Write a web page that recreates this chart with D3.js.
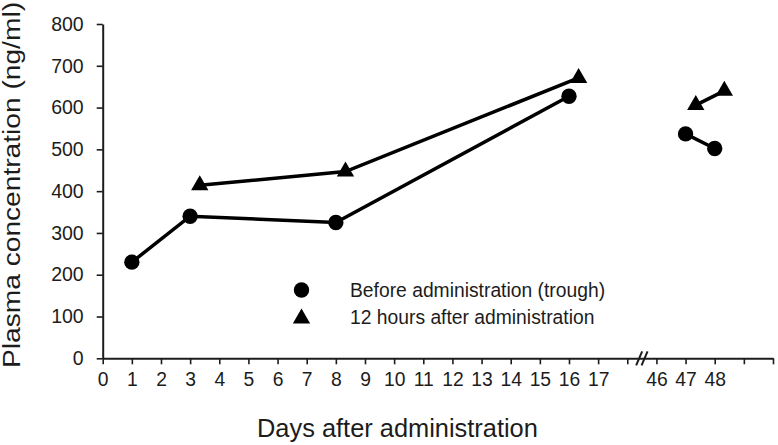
<!DOCTYPE html>
<html>
<head>
<meta charset="utf-8">
<script src="https://cdn.jsdelivr.net/npm/d3@7"></script>
<style>
  html, body { margin: 0; padding: 0; background: #fff; }
  svg { display: block; font-family: "Liberation Sans", Arial, sans-serif; }
</style>
</head>
<body>
<div id="chart"></div>
<script>
// ---- data ----
const troughDays   = [1, 3, 8, 16, 47, 48];
const troughValues = [230, 340, 325, 627, 537, 502];
const troughSegments = [[0, 1, 2, 3], [4, 5]];

const peakDays   = [3.33, 8.33, 16.33, 47.35, 48.33];
const peakValues = [414, 447, 671, 606, 640];
const peakSegments = [[0, 1, 2], [3, 4]];

const xTickValues = [0,1,2,3,4,5,6,7,8,9,10,11,12,13,14,15,16,17,18,46,47,48,49,50];
const xTickLabels = ["0","1","2","3","4","5","6","7","8","9","10","11","12","13","14","15","16","17","","46","47","48","",""];
const yTickValues = [0,100,200,300,400,500,600,700,800];

const legendLabels = ["Before administration (trough)", "12 hours after administration"];
const yTitle = "Plasma concentration (ng/ml)";
const xTitle = "Days after administration";

// ---- layout ----
const W = 778, H = 445;
const x0 = 102.7, x1 = 773;
const unit = (x1 - x0) / 23;
const yBottom = 358.3, yTop = 24;
const ink = "#1c1c1c";

const svg = d3.select("#chart").append("svg").attr("width", W).attr("height", H);

// broken x scale: 0..18 then 46..50
const x = d3.scaleLinear()
  .domain([0, 18, 46, 50])
  .range([x0, x0 + 18 * unit, x0 + 19 * unit, x1]);
const y = d3.scaleLinear().domain([0, 800]).range([yBottom, yTop]);

// x axis
const xAxis = d3.axisBottom(x)
  .tickValues(xTickValues)
  .tickFormat((d, i) => xTickLabels[i])
  .tickSizeInner(6).tickSizeOuter(0).tickPadding(4);
const gx = svg.append("g").attr("transform", `translate(0,${yBottom})`).call(xAxis);
gx.select(".domain").attr("stroke", ink).attr("stroke-width", 2);
gx.selectAll(".tick line").attr("stroke", ink).attr("stroke-width", 1.6);
gx.selectAll(".tick text").attr("fill", ink).attr("font-size", 19.3)
  .attr("font-family", "Liberation Sans, Arial, sans-serif").attr("dy", "0.92em");

// y axis
const yAxis = d3.axisLeft(y).tickValues(yTickValues).tickSizeInner(6).tickSizeOuter(0).tickPadding(13);
const gy = svg.append("g").attr("transform", `translate(${x0},0)`).call(yAxis);
gy.select(".domain").attr("stroke", ink).attr("stroke-width", 2);
gy.selectAll(".tick line").attr("stroke", ink).attr("stroke-width", 1.6);
gy.selectAll(".tick text").attr("fill", ink).attr("font-size", 19.5)
  .attr("font-family", "Liberation Sans, Arial, sans-serif");

// axis break mark
const bx = (x(18) + x(46)) / 2;
const brk = svg.append("g").attr("stroke", ink).attr("stroke-width", 2);
[-2.7, 2.7].forEach(off => {
  brk.append("line")
    .attr("x1", bx + off - 3).attr("y1", yBottom + 7)
    .attr("x2", bx + off + 3).attr("y2", yBottom - 7);
});

// lines
const line = d3.line().x(d => x(d[0])).y(d => y(d[1]));
const plot = svg.append("g");
troughSegments.forEach(seg => {
  plot.append("path").datum(seg.map(i => [troughDays[i], troughValues[i]]))
    .attr("d", line).attr("fill", "none").attr("stroke", "#000").attr("stroke-width", 3.5);
});
peakSegments.forEach(seg => {
  plot.append("path").datum(seg.map(i => [peakDays[i], peakValues[i]]))
    .attr("d", line).attr("fill", "none").attr("stroke", "#000").attr("stroke-width", 3.5);
});

// markers
const circleSym = d3.symbol().type(d3.symbolCircle).size(185);
const triSym = d3.symbol().type(d3.symbolTriangle).size(130);
plot.selectAll("path.trough").data(troughDays.map((d, i) => [d, troughValues[i]]))
  .join("path").attr("class", "trough")
  .attr("d", circleSym).attr("transform", d => `translate(${x(d[0])},${y(d[1])})`).attr("fill", "#000");
plot.selectAll("path.peak").data(peakDays.map((d, i) => [d, peakValues[i]]))
  .join("path").attr("class", "peak")
  .attr("d", triSym).attr("transform", d => `translate(${x(d[0])},${y(d[1])})`).attr("fill", "#000");

// legend
const lg = svg.append("g");
lg.append("path").attr("d", circleSym).attr("transform", "translate(301.5,290)").attr("fill", "#000");
lg.append("path").attr("d", triSym).attr("transform", "translate(301.5,318.5)").attr("fill", "#000");
lg.append("text").attr("x", 350).attr("y", 297.3).attr("font-size", 19.3).attr("fill", ink).text(legendLabels[0]);
lg.append("text").attr("x", 350).attr("y", 324).attr("font-size", 19.3).attr("fill", ink).text(legendLabels[1]);

// titles
svg.append("text")
  .attr("transform", "translate(20,185) rotate(-90)")
  .attr("text-anchor", "middle")
  .attr("font-size", 23.5)
  .attr("textLength", 366).attr("lengthAdjust", "spacingAndGlyphs")
  .attr("fill", ink).text(yTitle);
svg.append("text")
  .attr("x", 257).attr("y", 436.5)
  .attr("font-size", 25.4)
  .attr("fill", ink).text(xTitle);
</script>
</body>
</html>
